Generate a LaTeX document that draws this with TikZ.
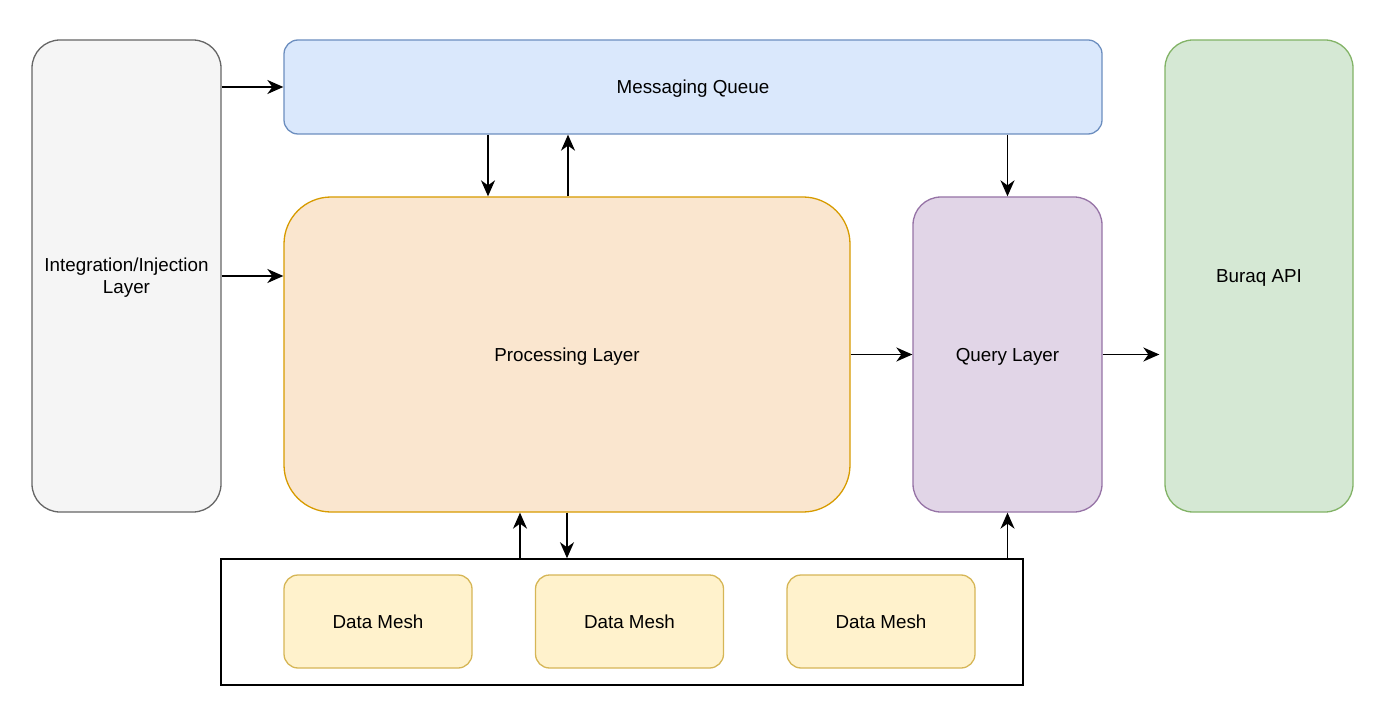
\documentclass[tikz,border=0pt]{standalone}
\usepackage{fontspec}
\setmainfont{Liberation Sans}
\usetikzlibrary{arrows.meta}

\definecolor{intfill}{HTML}{F5F5F5}
\definecolor{intline}{HTML}{666666}
\definecolor{mqfill}{HTML}{DAE8FC}
\definecolor{mqline}{HTML}{6C8EBF}
\definecolor{procfill}{HTML}{FAE6CF}
\definecolor{procline}{HTML}{D79B00}
\definecolor{qryfill}{HTML}{E1D5E7}
\definecolor{qryline}{HTML}{9673A6}
\definecolor{apifill}{HTML}{D5E8D4}
\definecolor{apiline}{HTML}{82B366}
\definecolor{meshfill}{HTML}{FFF2CC}
\definecolor{meshline}{HTML}{D6B656}

\tikzset{
  layer/.style={draw, line width=1.3pt, align=center, inner sep=0pt, text depth=0pt,
    font=\fontsize{18.8}{22}\selectfont},
  link/.style={-{Stealth[length=16pt,width=14pt,inset=5pt]}, line width=1.6pt}
}

\begin{document}
\begin{tikzpicture}[x=1pt,y=-1pt]
\useasboundingbox (0,0) rectangle (1400,719);

% layers
\node[layer, fill=intfill, draw=intline, rounded corners=28pt,
  minimum width=189pt, minimum height=472pt] (int) at (126.5,276) {Integration/Injection\\Layer};
\node[layer, fill=mqfill, draw=mqline, rounded corners=14pt,
  minimum width=818pt, minimum height=94pt] (mq) at (693,87) {Messaging Queue};
\node[layer, fill=procfill, draw=procline, rounded corners=47pt,
  minimum width=566pt, minimum height=315pt] (proc) at (567,354.5) {Processing Layer};
\node[layer, fill=qryfill, draw=qryline, rounded corners=28pt,
  minimum width=189pt, minimum height=315pt] (qry) at (1007.5,354.5) {Query Layer};
\node[layer, fill=apifill, draw=apiline, rounded corners=28pt,
  minimum width=188pt, minimum height=472pt] (api) at (1259,276) {Buraq API};

% data mesh container
\node[draw, line width=1.5pt, minimum width=802pt, minimum height=126pt] (store) at (622,622) {};
\node[layer, fill=meshfill, draw=meshline, rounded corners=14pt,
  minimum width=188pt, minimum height=93pt] (mesh1) at (378,621.5) {Data Mesh};
\node[layer, fill=meshfill, draw=meshline, rounded corners=14pt,
  minimum width=188pt, minimum height=93pt] (mesh2) at (629.5,621.5) {Data Mesh};
\node[layer, fill=meshfill, draw=meshline, rounded corners=14pt,
  minimum width=188pt, minimum height=93pt] (mesh3) at (881,621.5) {Data Mesh};

% connectors
\draw[link] (int.east |- mq.west) -- (mq.west);
\draw[link] (int.east) -- (int.east -| proc.west);
\draw[link] ([xshift=-79pt]proc.north |- mq.south) -- ([xshift=-79pt]proc.north);
\draw[link] ([xshift=1pt]proc.north) -- ([xshift=1pt]proc.north |- mq.south);
\draw[link] (qry.north |- mq.south) -- (qry.north);
\draw[link] (proc.east |- qry.west) -- (qry.west);
\draw[link, shorten >=5pt] (qry.east) -- (qry.east -| api.west);
\draw[link] ([xshift=-47pt]proc.south |- store.north) -- ([xshift=-47pt]proc.south);
\draw[link] (proc.south) -- (proc.south |- store.north);
\draw[link] (qry.south |- store.north) -- (qry.south);
\end{tikzpicture}
\end{document}
